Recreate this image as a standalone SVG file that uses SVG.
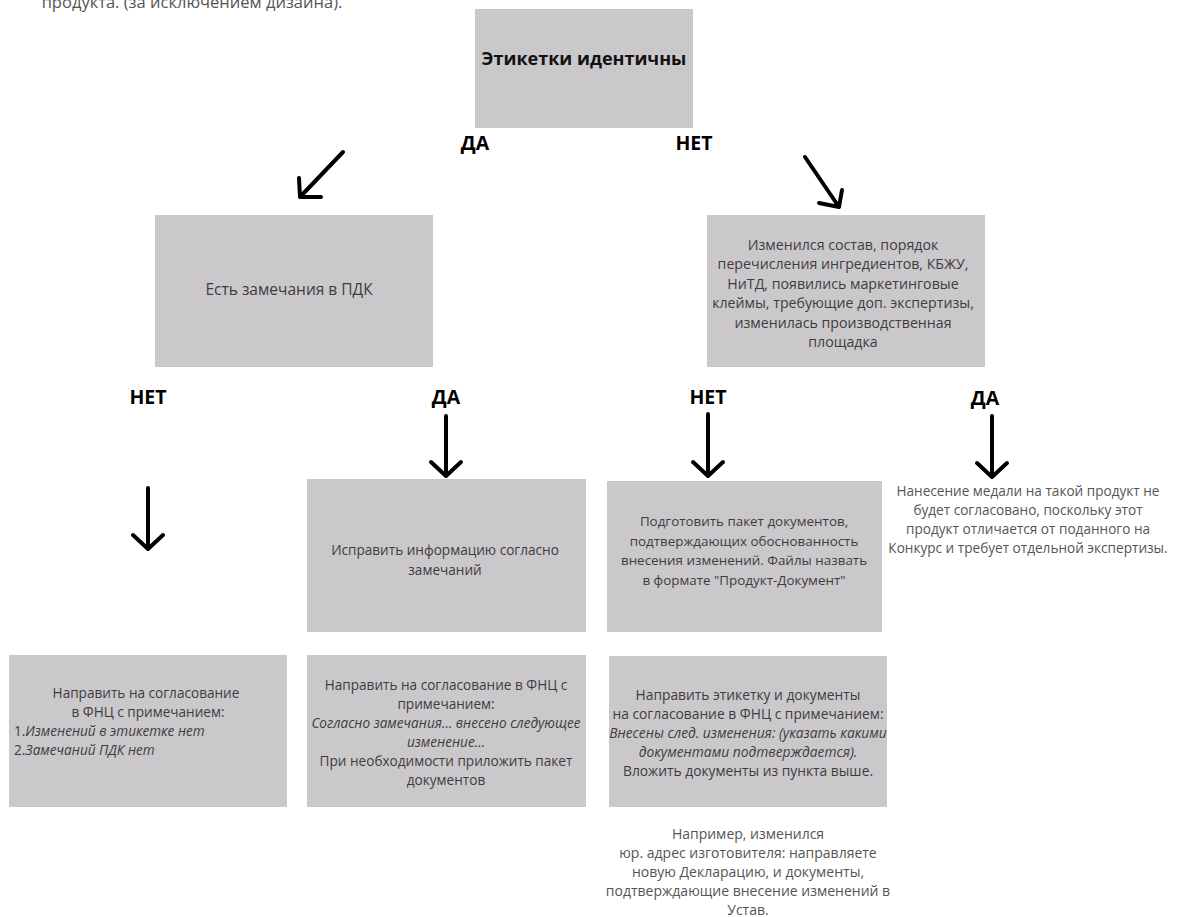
<svg xmlns="http://www.w3.org/2000/svg" width="1179" height="917" viewBox="0 0 1179 917">
<style>
  .box { fill: #cbc8cc; }
  .t { font-family: "Open Sans", "Liberation Sans", sans-serif; font-size: 13.6px; fill: #3d3d3d; text-anchor: middle; }
  .note { font-family: "Open Sans", "Liberation Sans", sans-serif; font-size: 14px; fill: #555555; text-anchor: middle; }
  .i { font-style: italic; }
  .lbl { font-family: "Open Sans", "Liberation Sans", sans-serif; font-size: 19.5px; font-weight: bold; fill: #000000; text-anchor: middle; }
  .title { font-family: "Open Sans", "Liberation Sans", sans-serif; font-size: 18px; font-weight: bold; fill: #111111; text-anchor: middle; }
  .arr { fill: none; stroke: #000000; stroke-width: 4; stroke-linecap: round; stroke-linejoin: round; }
</style>
<rect width="1179" height="917" fill="#ffffff"/>
<text class="note" x="192" y="8" style="font-size:16.5px">продукта. (за исключением дизайна).</text>

<g id="n-labels-identical">
  <rect class="box" x="475" y="9" width="218" height="119"/>
  <text class="title" x="584" y="65">Этикетки идентичны</text>
</g>
<g id="n-pdk-remarks">
  <rect class="box" x="155" y="215" width="278" height="152"/>
  <text class="t" x="289" y="295" style="font-size:15.5px">Есть замечания в ПДК</text>
</g>
<g id="n-composition-changed" style="font-size:14.2px">
  <rect class="box" x="707" y="215" width="278" height="152"/>
  <text class="t" x="843" y="250" style="font-size:14.2px">Изменился состав, порядок</text>
  <text class="t" x="843" y="269" style="font-size:14.2px">перечисления ингредиентов, КБЖУ,</text>
  <text class="t" x="843" y="289" style="font-size:14.2px">НиТД, появились маркетинговые</text>
  <text class="t" x="843" y="308" style="font-size:14.2px">клеймы, требующие доп. экспертизы,</text>
  <text class="t" x="843" y="328" style="font-size:14.2px">изменилась производственная</text>
  <text class="t" x="843" y="347" style="font-size:14.2px">площадка</text>
</g>
<g id="n-fix-info">
  <rect class="box" x="307" y="479" width="279" height="153"/>
  <text class="t" x="445" y="555">Исправить информацию согласно</text>
  <text class="t" x="445" y="575">замечаний</text>
</g>
<g id="n-prepare-docs">
  <rect class="box" x="607" y="481" width="275" height="151"/>
  <text class="t" x="744" y="526" style="font-size:13.4px">Подготовить пакет документов,</text>
  <text class="t" x="744" y="546" style="font-size:13.4px">подтверждающих обоснованность</text>
  <text class="t" x="744" y="565" style="font-size:13.4px">внесения изменений. Файлы назвать</text>
  <text class="t" x="744" y="585" style="font-size:13.4px">в формате "Продукт-Документ"</text>
</g>
<g id="n-send-no-changes">
  <rect class="box" x="9" y="655" width="278" height="152"/>
  <text class="t" x="146" y="698">Направить на согласование</text>
  <text class="t" x="148" y="717">в ФНЦ  с примечанием:</text>
  <text class="t" x="14" y="736" style="text-anchor:start">1.<tspan class="i">Изменений в этикетке нет</tspan></text>
  <text class="t" x="14" y="755" style="text-anchor:start">2.<tspan class="i">Замечаний ПДК нет</tspan></text>
</g>
<g id="n-send-fixed">
  <rect class="box" x="307" y="655" width="279" height="152"/>
  <text class="t" x="446" y="690">Направить на согласование в ФНЦ с</text>
  <text class="t" x="446" y="709">примечанием:</text>
  <text class="t i" x="446" y="728">Согласно замечания… внесено следующее</text>
  <text class="t i" x="446" y="747">изменение…</text>
  <text class="t" x="446" y="766">При необходимости приложить пакет</text>
  <text class="t" x="446" y="785">документов</text>
</g>
<g id="n-send-label-docs">
  <rect class="box" x="609" y="656" width="278" height="151"/>
  <text class="t" x="748" y="700" style="font-size:13.8px">Направить этикетку и документы</text>
  <text class="t" x="748" y="719" style="font-size:13.8px">на согласование в ФНЦ с примечанием:</text>
  <text class="t i" x="748" y="738" style="font-size:13.8px">Внесены след. изменения: (указать какими</text>
  <text class="t i" x="748" y="757" style="font-size:13.8px">документами подтверждается).</text>
  <text class="t" x="748" y="776" style="font-size:13.8px">Вложить документы из пункта выше.</text>
</g>
<g id="n-medal-denied">
  <text class="note" x="1028" y="496" style="font-size:13.6px">Нанесение медали на такой продукт не</text>
  <text class="note" x="1028" y="515" style="font-size:13.6px">будет согласовано, поскольку этот</text>
  <text class="note" x="1028" y="534" style="font-size:13.6px">продукт отличается от поданного на</text>
  <text class="note" x="1028" y="553" style="font-size:13.6px">Конкурс и требует отдельной экспертизы.</text>
</g>
<g id="n-example">
  <text class="note" x="748" y="839">Например, изменился</text>
  <text class="note" x="748" y="858">юр. адрес изготовителя: направляете</text>
  <text class="note" x="748" y="877">новую Декларацию, и документы,</text>
  <text class="note" x="748" y="896">подтверждающие внесение изменений в</text>
  <text class="note" x="748" y="915">Устав.</text>
</g>

<g id="connectors">
  <path class="arr" d="M343,152 L300,197 M299,178 L300,197 L321,197"/>
  <path class="arr" d="M805,157 L839,207 M842,190 L839,207 L819,203"/>
  <path class="arr" d="M148,488 L148,549 M133,535 L148,549 L163,535"/>
  <path class="arr" d="M446,416 L446,476 M431,462 L446,476 L461,462"/>
  <path class="arr" d="M708,414 L708,476 M693,462 L708,476 L723,462"/>
  <path class="arr" d="M992,416 L992,477 M977,463 L992,477 L1007,463"/>
</g>
<g id="edge-labels">
  <text class="lbl" x="475" y="150">ДА</text>
  <text class="lbl" x="694" y="150">НЕТ</text>
  <text class="lbl" x="148" y="404">НЕТ</text>
  <text class="lbl" x="446" y="404">ДА</text>
  <text class="lbl" x="708" y="404">НЕТ</text>
  <text class="lbl" x="985" y="405">ДА</text>
</g>
</svg>
